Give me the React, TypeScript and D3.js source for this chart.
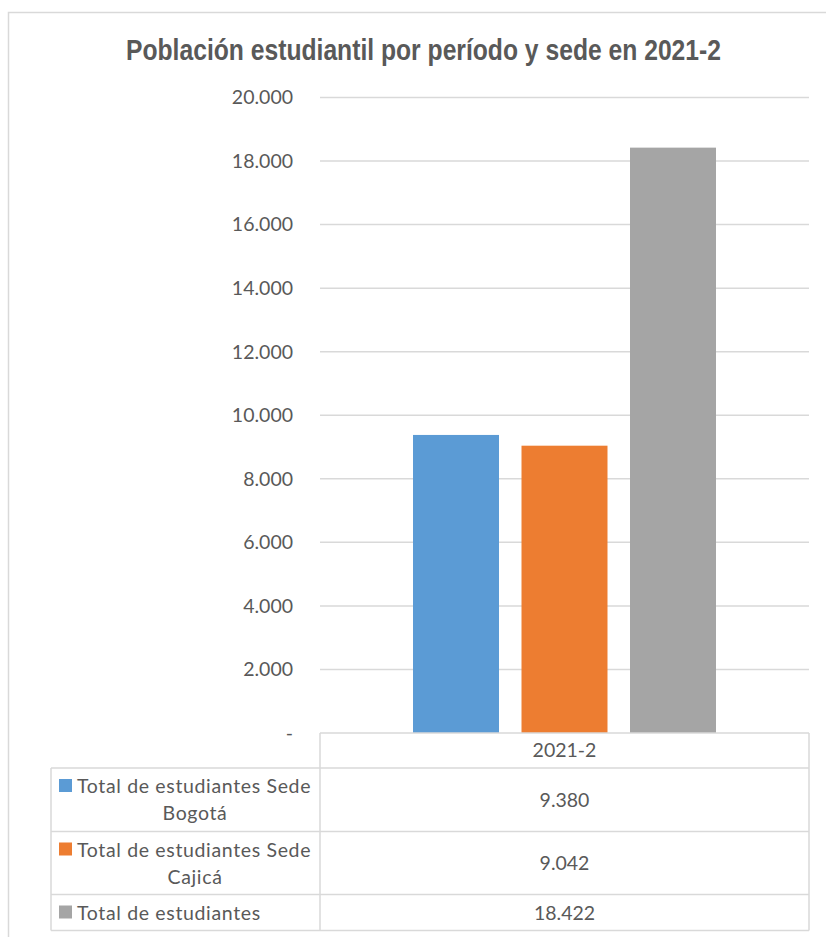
import React from "react";
import * as d3 from "d3";

const title = "Población estudiantil por período y sede en 2021-2";
const categories = ["2021-2"];
const seriesNames = [
  ["Total de estudiantes Sede", "Bogotá"],
  ["Total de estudiantes Sede", "Cajicá"],
  ["Total de estudiantes"],
];
const seriesValues = [9380, 9042, 18422];
const seriesColors = ["#5B9BD5", "#ED7D31", "#A5A5A5"];
const yTicks = [0, 2000, 4000, 6000, 8000, 10000, 12000, 14000, 16000, 18000, 20000];

const fmt = (v: number) => (v === 0 ? "-" : d3.format(",")(v).replace(/,/g, "."));

export default function App() {
  const W = 826, H = 937;
  const plotL = 320, plotR = 809, plotT = 97.5, plotB = 733;
  const y = d3.scaleLinear().domain([0, 20000]).range([plotB, plotT]);
  const x0 = d3.scaleBand().domain(categories).range([plotL, plotR]).paddingInner(0).paddingOuter(0.307);
  const x1 = d3.scaleBand().domain(seriesValues.map((_, i) => String(i))).range([0, x0.bandwidth()]).paddingInner(0.2074).paddingOuter(0);
  const grid = "#D9D9D9";
  const txt = "#595959";
  const font = "Lato, 'Open Sans', sans-serif";
  const tableL = 51;
  const rows = [
    { top: 768, bottom: 831.5 },
    { top: 831.5, bottom: 894.5 },
    { top: 894.5, bottom: 930.5 },
  ];
  const headerTop = 733;
  const cat = categories[0];
  const cx = (x0(cat) ?? 0) + x0.bandwidth() / 2;
  const valueCenter = (plotL + plotR) / 2;

  return (
    <svg width={W} height={H} style={{ position: "absolute", left: 0, top: 0, background: "#fff" }}>
      <rect x={0} y={0} width={W} height={H} fill="#fff" />
      <rect x={8.5} y={12.5} width={W + 10} height={H + 10} fill="none" stroke={grid} strokeWidth={1.5} />
      <text x={423.5} y={60} textAnchor="middle" fill={txt} fontWeight="bold" fontSize={29}
        fontFamily="'Liberation Sans Narrow', 'Liberation Sans', Arial, sans-serif"
        textLength={595} lengthAdjust="spacingAndGlyphs">{title}</text>
      {yTicks.map((t) => (
        <g key={t}>
          {t !== 0 && <line x1={plotL} x2={plotR} y1={y(t)} y2={y(t)} stroke={grid} strokeWidth={1.5} />}
          <text x={293} y={y(t)} dy="0.35em" textAnchor="end" fill={txt} fontSize={19.5} fontFamily={font}>{fmt(t)}</text>
        </g>
      ))}
      {seriesValues.map((v, i) => (
        <rect key={i} x={(x0(cat) ?? 0) + (x1(String(i)) ?? 0)} y={y(v)} width={x1.bandwidth()} height={y(0) - y(v)} fill={seriesColors[i]} />
      ))}
      {/* data table */}
      <g fill="none" stroke={grid} strokeWidth={1.5}>
        <line x1={plotL} x2={plotR} y1={headerTop} y2={headerTop} />
        <line x1={plotL} x2={plotL} y1={headerTop} y2={rows[2].bottom} />
        <line x1={plotR} x2={plotR} y1={headerTop} y2={rows[2].bottom} />
        <line x1={tableL} x2={tableL} y1={rows[0].top} y2={rows[2].bottom} />
        {rows.map((r, i) => (
          <line key={i} x1={tableL} x2={plotR} y1={r.top} y2={r.top} />
        ))}
        <line x1={tableL} x2={plotR} y1={rows[2].bottom} y2={rows[2].bottom} />
      </g>
      <text x={cx} y={757} textAnchor="middle" fill={txt} fontSize={19.5} fontFamily={font}>{cat}</text>
      {rows.map((r, i) => {
        const lines = seriesNames[i];
        const base1 = r.top + 25;
        return (
          <g key={i}>
            <rect x={59} y={base1 - 14} width={13} height={13} fill={seriesColors[i]} />
            <text x={77} y={base1} fill={txt} fontSize={19.5} fontFamily={font} letterSpacing={0.65}>{lines[0]}</text>
            {lines[1] && (
              <text x={195} y={base1 + 27} textAnchor="middle" fill={txt} fontSize={19.5} fontFamily={font} letterSpacing={0.65}>{lines[1]}</text>
            )}
            <text x={valueCenter} y={(r.top + r.bottom) / 2} dy="0.36em" textAnchor="middle" fill={txt} fontSize={19.5} fontFamily={font}>{fmt(seriesValues[i])}</text>
          </g>
        );
      })}
    </svg>
  );
}
